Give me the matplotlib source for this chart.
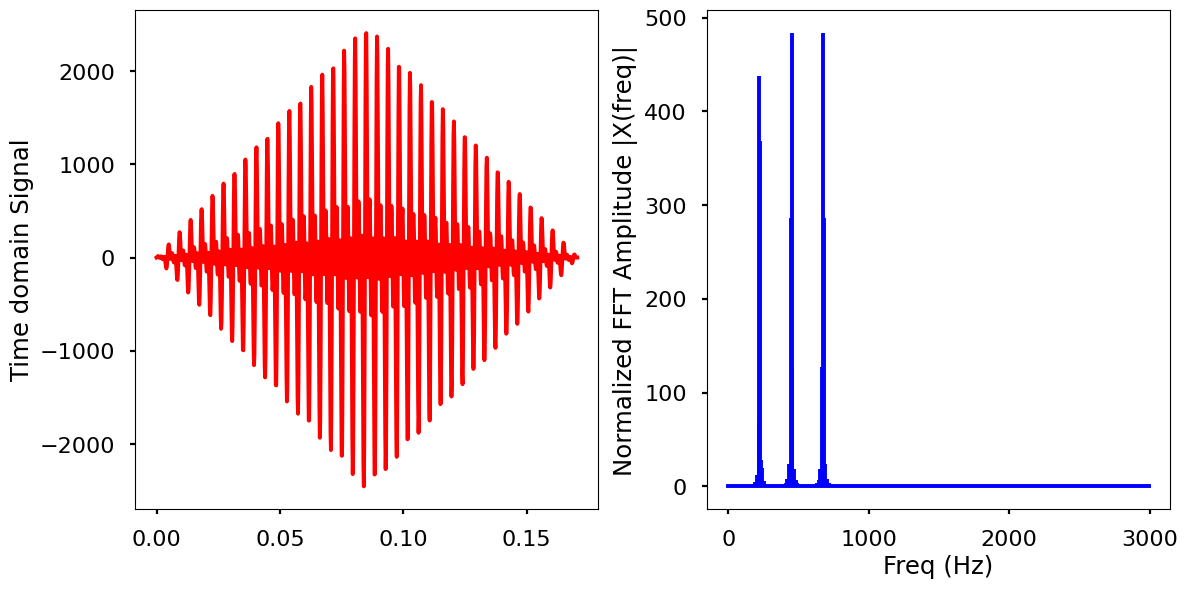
import numpy as np
import matplotlib
matplotlib.use('Agg')
import matplotlib.pyplot as plt

plt.style.use('seaborn-v0_8-poster')

# sampling setup
sr = 6000
n_samples = 1024

# the three tones of the note and their amplitudes
tone_freqs = [225, 450, 675]
tone_amps = [1000, 1000, 1000]

t = np.arange(n_samples) / sr
x = np.zeros(n_samples)
for f, a in zip(tone_freqs, tone_amps):
    x += a * np.sin(2 * np.pi * f * t)
# triangular envelope
x = x * np.bartlett(n_samples)

# one sided FFT, normalized
X = np.fft.fft(x)
freq = np.arange(n_samples) * sr / n_samples
n_oneside = n_samples // 2
f_oneside = freq[:n_oneside]
X_oneside = X[:n_oneside] / n_oneside

plt.figure(figsize=(12, 6))
plt.subplot(121)
plt.plot(t, x, 'r')
plt.ylabel('Time domain Signal')

plt.subplot(122)
plt.stem(f_oneside, np.abs(X_oneside), 'b', markerfmt=' ', basefmt='-b')
plt.xlabel('Freq (Hz)')
plt.ylabel('Normalized FFT Amplitude |X(freq)|')
plt.tight_layout()

plt.savefig('out.png', dpi=100, bbox_inches='tight')
